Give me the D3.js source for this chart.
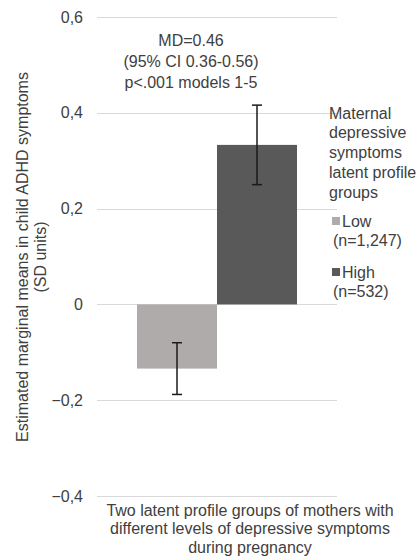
<!DOCTYPE html>
<html>
<head>
<meta charset="utf-8">
<script src="https://cdn.jsdelivr.net/npm/d3@7"></script>
<style>
  body { margin: 0; background: #fff; font-family: "Liberation Sans", Arial, sans-serif; }
  svg text { fill: #404040; font-size: 16px; }
</style>
</head>
<body>
<script>
// data
var groups = ["Low", "High"];
var groupLabels = ["Low", "(n=1,247)", "High", "(n=532)"];
var means = [-0.134, 0.333];
var ciLow = [-0.188, 0.250];
var ciHigh = [-0.080, 0.416];
var colors = ["#afabab", "#595959"];
var yTicks = [-0.4, -0.2, 0, 0.2, 0.4, 0.6];
var annotation = ["MD=0.46", "(95% CI 0.36-0.56)", "p<.001 models 1-5"];
var legendTitle = ["Maternal", "depressive", "symptoms", "latent profile", "groups"];
var xTitle = ["Two latent profile groups of mothers with", "different levels of depressive symptoms", "during pregnancy"];
var yTitle = ["Estimated marginal means in child ADHD symptoms", "(SD units)"];

var W = 417, H = 556;
var plot = { left: 97, right: 337, top: 17, bottom: 496 };

var svg = d3.select("body").append("svg")
    .attr("width", W)
    .attr("height", H);

var y = d3.scaleLinear()
    .domain([-0.4, 0.6])
    .range([plot.bottom, plot.top]);

var x = d3.scaleBand()
    .domain(groups)
    .range([137, 297])
    .padding(0);

// grid lines
svg.append("g")
    .selectAll("line")
    .data(yTicks)
    .enter().append("line")
    .attr("x1", plot.left)
    .attr("x2", plot.right)
    .attr("y1", function (d) { return Math.round(y(d)) + 0.5; })
    .attr("y2", function (d) { return Math.round(y(d)) + 0.5; })
    .attr("stroke", "#d9d9d9")
    .attr("stroke-width", 1.2);

// y tick labels
var fmt = function (d) { return d === 0 ? "0" : d3.format(".1f")(d).replace(".", ","); };
svg.append("g")
    .selectAll("text")
    .data(yTicks)
    .enter().append("text")
    .attr("x", 83)
    .attr("y", function (d) { return y(d); })
    .attr("dy", "0.35em")
    .attr("text-anchor", "end")
    .text(fmt);

// bars
svg.append("g")
    .selectAll("rect")
    .data(groups)
    .enter().append("rect")
    .attr("x", function (d) { return x(d); })
    .attr("width", x.bandwidth())
    .attr("y", function (d, i) { return y(Math.max(0, means[i])); })
    .attr("height", function (d, i) { return Math.abs(y(means[i]) - y(0)); })
    .attr("fill", function (d, i) { return colors[i]; });

// error bars
var eb = svg.append("g").attr("stroke", "#1a1a1a").attr("stroke-width", 1.5);
groups.forEach(function (g, i) {
    var cx = x(g) + x.bandwidth() / 2;
    eb.append("line").attr("x1", cx).attr("x2", cx)
        .attr("y1", y(ciLow[i])).attr("y2", y(ciHigh[i]));
    eb.append("line").attr("x1", cx - 5).attr("x2", cx + 5)
        .attr("y1", y(ciLow[i])).attr("y2", y(ciLow[i]));
    eb.append("line").attr("x1", cx - 5).attr("x2", cx + 5)
        .attr("y1", y(ciHigh[i])).attr("y2", y(ciHigh[i]));
});

// annotation
svg.append("g")
    .selectAll("text")
    .data(annotation)
    .enter().append("text")
    .attr("x", 191)
    .attr("y", function (d, i) { return 40 + i * 21; })
    .attr("dy", "0.35em")
    .attr("text-anchor", "middle")
    .text(function (d) { return d; });

// x axis title
svg.append("g")
    .selectAll("text")
    .data(xTitle)
    .enter().append("text")
    .attr("x", 250)
    .attr("y", function (d, i) { return 510 + i * 18.5; })
    .attr("dy", "0.35em")
    .attr("text-anchor", "middle")
    .text(function (d) { return d; });

// y axis title
svg.append("g")
    .selectAll("text")
    .data(yTitle)
    .enter().append("text")
    .attr("transform", function (d, i) { return "translate(" + (22 + i * 18) + ",257) rotate(-90)"; })
    .attr("dy", "0.35em")
    .attr("text-anchor", "middle")
    .text(function (d) { return d; });

// legend
var legend = svg.append("g");
legend.selectAll("text.title")
    .data(legendTitle)
    .enter().append("text")
    .attr("class", "title")
    .attr("x", 329)
    .attr("y", function (d, i) { return 113 + i * 19.8; })
    .attr("dy", "0.35em")
    .text(function (d) { return d; });

groups.forEach(function (g, i) {
    var top = 221 + i * 51;
    legend.append("rect")
        .attr("x", 332).attr("y", top - 4)
        .attr("width", 8).attr("height", 8)
        .attr("fill", colors[i]);
    legend.append("text")
        .attr("x", 342).attr("y", top)
        .attr("dy", "0.35em")
        .text(groupLabels[i * 2]);
    legend.append("text")
        .attr("x", 333).attr("y", top + 19)
        .attr("dy", "0.35em")
        .text(groupLabels[i * 2 + 1]);
});
</script>
</body>
</html>
